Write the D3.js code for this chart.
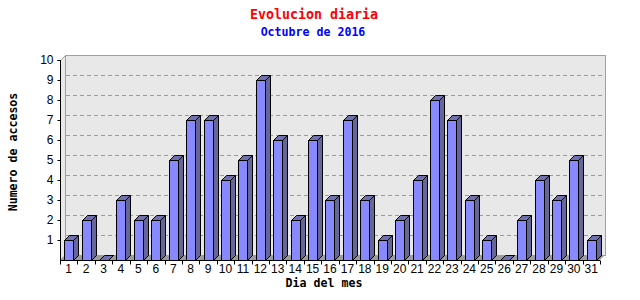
<!DOCTYPE html>
<html>
<head>
<meta charset="utf-8">
<script src="https://cdn.jsdelivr.net/npm/d3@7"></script>
<style>
  body { margin: 0; background: #fff; }
  #vis-container { width: 640px; height: 300px; }
</style>
</head>
<body>
<div id="vis-container"></div>
<script>
// accesos por dia, octubre 2016
var days = ["1","2","3","4","5","6","7","8","9","10","11","12","13","14","15","16",
            "17","18","19","20","21","22","23","24","25","26","27","28","29","30","31"];
var visits = [1,2,0,3,2,2,5,7,7,4,5,9,6,2,6,3,7,3,1,2,4,8,7,3,1,0,2,4,3,5,1];
var yTicks = [1,2,3,4,5,6,7,8,9,10];

var titleText = "Evolucion diaria";
var subtitleText = "Octubre de 2016";
var xTitle = "Dia del mes";
var yTitle = "Numero de accesos";

var W = 640, H = 300;
// note: "top" is taken by window.top, so plot edges get a prefix
var pLeft = 60, pRight = 600, pTop = 60, pBottom = 260;
var depth = 5;  // 3d offset
var mono = "'DejaVu Sans Mono', monospace";
var sans = "'Liberation Sans', Arial, sans-serif";

var svg = d3.select("#vis-container")
  .append("svg")
    .attr("width", W)
    .attr("height", H);

svg.append("rect").attr("width", W).attr("height", H).attr("fill", "#fff");

var xScale = d3.scaleBand()
    .domain(days)
    .range([pLeft, pRight]);

var yScale = d3.scaleLinear()
    .domain([0, 10])
    .range([pBottom, pTop]);

// back wall
svg.append("rect")
  .attr("x", pLeft + depth + 0.5)
  .attr("y", pTop - depth + 0.5)
  .attr("width", pRight - pLeft)
  .attr("height", pBottom - pTop)
  .attr("fill", "#e8e8e8")
  .attr("stroke", "#a0a0a0");

// side wall
svg.append("path")
  .attr("d", "M" + (pLeft + 0.5) + "," + (pTop + 0.5) + "L" + (pLeft + depth + 0.5) + "," + (pTop - depth + 0.5) +
             "L" + (pLeft + depth + 0.5) + "," + (pBottom - depth + 0.5) + "L" + (pLeft + 0.5) + "," + (pBottom + 0.5) + "Z")
  .attr("fill", "#e8e8e8")
  .attr("stroke", "#a0a0a0");

// floor
svg.append("path")
  .attr("d", "M" + pLeft + "," + pBottom + "L" + pRight + "," + pBottom +
             "L" + (pRight + depth) + "," + (pBottom - depth) + "L" + (pLeft + depth) + "," + (pBottom - depth) + "Z")
  .attr("fill", "#9c9c9c");

// grid
svg.selectAll(".grid")
  .data(yTicks.filter(function(d) { return d < 10; }))
  .enter()
  .append("line")
    .attr("class", "grid")
    .attr("x1", pLeft + depth + 1)
    .attr("x2", pRight + depth)
    .attr("y1", function(d) { return Math.round(yScale(d) - depth) + 0.5; })
    .attr("y2", function(d) { return Math.round(yScale(d) - depth) + 0.5; })
    .attr("stroke", "#9a9a9a")
    .attr("stroke-dasharray", "4,3");

// bars
var bw = 9;
var bars = svg.selectAll(".bar")
  .data(visits)
  .enter()
  .append("g")
    .attr("class", "bar");

function x0(d, i) { return Math.round(xScale(days[i]) + xScale.bandwidth() / 2 - bw / 2) + 0.5; }

bars.append("path")  // top
  .attr("d", function(d, i) {
    var a = x0(d, i), b = a + bw, t = Math.round(yScale(d)) + 0.5;
    return "M" + a + "," + t + "L" + (a + depth) + "," + (t - depth) + "L" + (b + depth) + "," + (t - depth) + "L" + b + "," + t + "Z";
  })
  .attr("fill", "#7070b0")
  .attr("stroke", "#000");

bars.append("path")  // side
  .attr("d", function(d, i) {
    var b = x0(d, i) + bw, t = Math.round(yScale(d)) + 0.5, z = pBottom + 0.5;
    return "M" + b + "," + t + "L" + (b + depth) + "," + (t - depth) + "L" + (b + depth) + "," + (z - depth) + "L" + b + "," + z + "Z";
  })
  .attr("fill", "#666699")
  .attr("stroke", "#000");

bars.append("rect")  // front
  .attr("x", x0)
  .attr("y", function(d) { return Math.round(yScale(d)) + 0.5; })
  .attr("width", bw)
  .attr("height", function(d) { return pBottom - Math.round(yScale(d)); })
  .attr("fill", "#8888ff")
  .attr("stroke", "#000");

// y axis
var yAxis = d3.axisLeft(yScale)
    .tickValues(yTicks)
    .tickSize(3)
    .tickPadding(4);

svg.append("g")
  .attr("class", "y axis")
  .attr("transform", "translate(" + (pLeft + 0.5) + ",0)")
  .call(yAxis)
  .call(function(g) { g.select(".domain").attr("d", "M-3," + (pTop + 0.5) + "H0V" + (pBottom + 0.5)); })
  .selectAll("text")
    .style("font-family", sans)
    .style("font-size", "12px")
    .attr("fill", "#000");

// x axis
var xAxis = d3.axisBottom(xScale)
    .tickSize(0)
    .tickPadding(4);

var gx = svg.append("g")
  .attr("class", "x axis")
  .attr("transform", "translate(0," + (pBottom + 0.5) + ")")
  .call(xAxis);
gx.select(".domain").attr("d", "M" + pLeft + ",0H" + pRight);
gx.selectAll("text")
  .style("font-family", sans)
  .style("font-size", "12px")
  .attr("fill", "#000");

gx.selectAll(".sep")
  .data(days.concat(["end"]))
  .enter()
  .append("line")
    .attr("class", "sep")
    .attr("x1", function(d, i) { return Math.round(pLeft + i * xScale.step()) + 0.5; })
    .attr("x2", function(d, i) { return Math.round(pLeft + i * xScale.step()) + 0.5; })
    .attr("y1", 0)
    .attr("y2", 4)
    .attr("stroke", "#000");

// titles
svg.append("text")
  .attr("x", 314).attr("y", 19)
  .attr("text-anchor", "middle")
  .style("font-family", mono).style("font-weight", "bold").style("font-size", "13.3px")
  .attr("fill", "#ff0000")
  .text(titleText);

svg.append("text")
  .attr("x", 313).attr("y", 36)
  .attr("text-anchor", "middle")
  .style("font-family", mono).style("font-weight", "bold").style("font-size", "11.6px")
  .attr("fill", "#0000ff")
  .text(subtitleText);

svg.append("text")
  .attr("x", 324).attr("y", 287)
  .attr("text-anchor", "middle")
  .style("font-family", mono).style("font-weight", "bold").style("font-size", "11.6px")
  .attr("fill", "#000")
  .text(xTitle);

svg.append("text")
  .attr("transform", "translate(17,152) rotate(-90)")
  .attr("text-anchor", "middle")
  .style("font-family", mono).style("font-weight", "bold").style("font-size", "11.6px")
  .attr("fill", "#000")
  .text(yTitle);
</script>
</body>
</html>
